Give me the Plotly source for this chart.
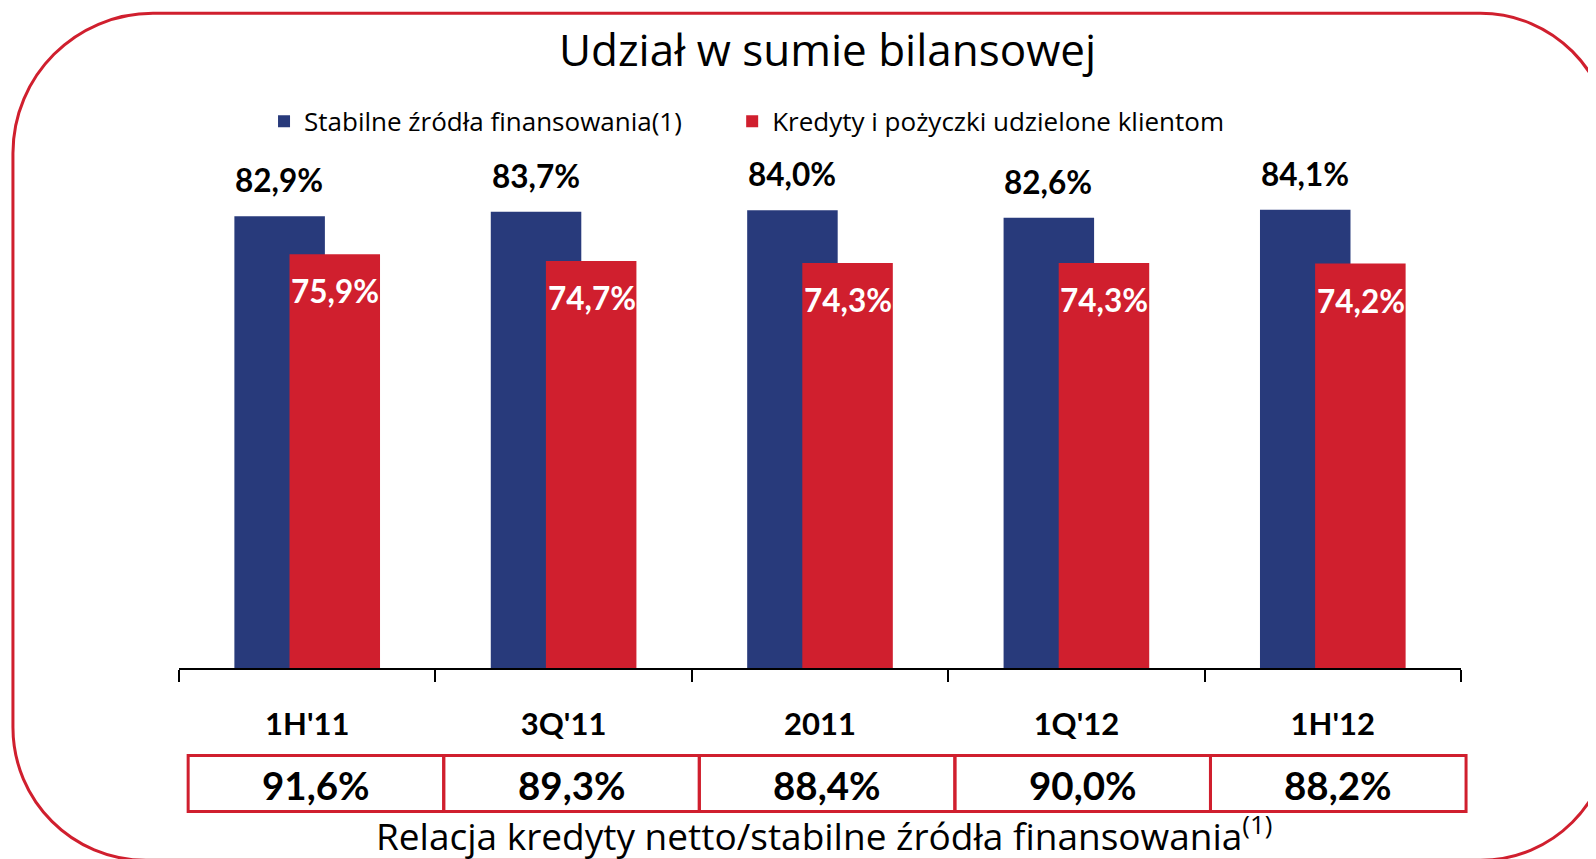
import plotly.graph_objects as go

categories = ["1H'11", "3Q'11", "2011", "1Q'12", "1H'12"]
stable_funding = [82.9, 83.7, 84.0, 82.6, 84.1]
loans_to_clients = [75.9, 74.7, 74.3, 74.3, 74.2]
loans_to_funding_ratio = [91.6, 89.3, 88.4, 90.0, 88.2]

series_names = ["Stabilne źródła finansowania(1)", "Kredyty i pożyczki udzielone klientom"]
title_text = "Udział w sumie bilansowej"
footer_text = "Relacja kredyty netto/stabilne źródła finansowania<sup>(1)</sup>"

BLUE = "#283A7B"
RED = "#D01F2E"
BOLD_FONT = "Lato"
REG_FONT = "Open Sans"

W, H = 1596, 859
L, R, T, B = 171, 143.4, 114.7, 199.3
PW, PH = W - L - R, H - T - B
BASE = H - B
N = len(categories)


def px_x(x):
    return (x - L) / PW


def px_y(y):
    return (BASE - y) / PH


def fmt(v):
    return f"{v:.1f}".replace(".", ",") + "%"


fig = go.Figure()
fig.add_bar(x=categories, y=stable_funding, name=series_names[0], legend="legend",
            marker=dict(color=BLUE, line=dict(width=0)),
            width=0.353, offset=-0.284)
fig.add_bar(x=categories, y=loans_to_clients, name=series_names[1], legend="legend2",
            marker=dict(color=RED, line=dict(width=0)),
            width=0.353, offset=-0.069)

annotations = []
for i, v in enumerate(stable_funding):
    annotations.append(dict(x=i, y=v, xref="x", yref="y", text=fmt(v), showarrow=False,
                            xshift=-28, yshift=36, xanchor="center", yanchor="middle",
                            font=dict(family=BOLD_FONT, size=31.5, color="black", weight="bold")))
for i, v in enumerate(loans_to_clients):
    annotations.append(dict(x=i, y=v, xref="x", yref="y", text=fmt(v), showarrow=False,
                            xshift=28, yshift=-37, xanchor="center", yanchor="middle",
                            font=dict(family=BOLD_FONT, size=31.5, color="white", weight="bold")))

shapes = []
cell_off = 0.0357
cell_w = 0.9968
for i, v in enumerate(loans_to_funding_ratio):
    shapes.append(dict(type="rect", xref="paper", yref="paper",
                       x0=(cell_off + i * cell_w) / N, x1=(cell_off + (i + 1) * cell_w) / N,
                       y0=px_y(803.2), y1=px_y(747.3),
                       line=dict(color=RED, width=3), fillcolor="rgba(0,0,0,0)", layer="above"))
    annotations.append(dict(x=(cell_off + (i + 0.5) * cell_w) / N, y=px_y(776.8),
                            xref="paper", yref="paper", text=fmt(v), showarrow=False,
                            xanchor="center", yanchor="middle",
                            font=dict(family=BOLD_FONT, size=38.5, color="black", weight="bold")))

annotations.append(dict(x=px_x(815.5), y=px_y(825), xref="paper", yref="paper", text=footer_text,
                        showarrow=False, xanchor="center", yanchor="middle",
                        font=dict(family=REG_FONT, size=37, color="black")))

# rounded frame
x0f, y0f, x1f, y1f = 5, 5, 1602, 852
rtl, rbl, rtr, rbr = 140, 133, 130, 130
k = 0.5523


def P(x, y):
    return f"{px_x(x):.5f},{px_y(y):.5f}"


path = (
    f"M {P(x0f, y0f + rtl)} "
    f"C {P(x0f, y0f + rtl - k * rtl)} {P(x0f + rtl - k * rtl, y0f)} {P(x0f + rtl, y0f)} "
    f"L {P(x1f - rtr, y0f)} "
    f"C {P(x1f - rtr + k * rtr, y0f)} {P(x1f, y0f + rtr - k * rtr)} {P(x1f, y0f + rtr)} "
    f"L {P(x1f, y1f - rbr)} "
    f"C {P(x1f, y1f - rbr + k * rbr)} {P(x1f - rbr + k * rbr, y1f)} {P(x1f - rbr, y1f)} "
    f"L {P(x0f + rbl, y1f)} "
    f"C {P(x0f + rbl - k * rbl, y1f)} {P(x0f, y1f - rbl + k * rbl)} {P(x0f, y1f - rbl)} Z"
)
shapes.append(dict(type="path", xref="paper", yref="paper", path=path,
                   line=dict(color=RED, width=3), layer="above"))

legend_common = dict(orientation="h", yanchor="middle", xanchor="left",
                     font=dict(family=REG_FONT, size=26, color="black"),
                     itemclick=False, bgcolor="rgba(0,0,0,0)")

fig.update_layout(
    width=W, height=H,
    margin=dict(l=L, r=R, t=T, b=B, autoexpand=False),
    paper_bgcolor="white", plot_bgcolor="white",
    barmode="overlay",
    showlegend=True,
    legend=dict(x=px_x(256), y=px_y(113), **legend_common),
    legend2=dict(x=px_x(724), y=px_y(113), **legend_common),
    title=dict(text=title_text, x=819.5 / W, xanchor="center", y=1 - 42.9 / H, yanchor="middle",
               font=dict(family=REG_FONT, size=44, color="black")),
    xaxis=dict(type="category", range=[-0.5, 4.5], showline=True, linecolor="black", linewidth=2,
               ticks="outside", tickson="boundaries", ticklen=12, tickwidth=2, tickcolor="black",
               ticklabelstandoff=28, showgrid=False, zeroline=False, fixedrange=True,
               tickfont=dict(family=BOLD_FONT, size=31, color="black", weight="bold")),
    yaxis=dict(range=[0, 100], visible=False, showgrid=False, fixedrange=True),
    annotations=annotations,
    shapes=shapes,
)

fig.write_html("out.html")
